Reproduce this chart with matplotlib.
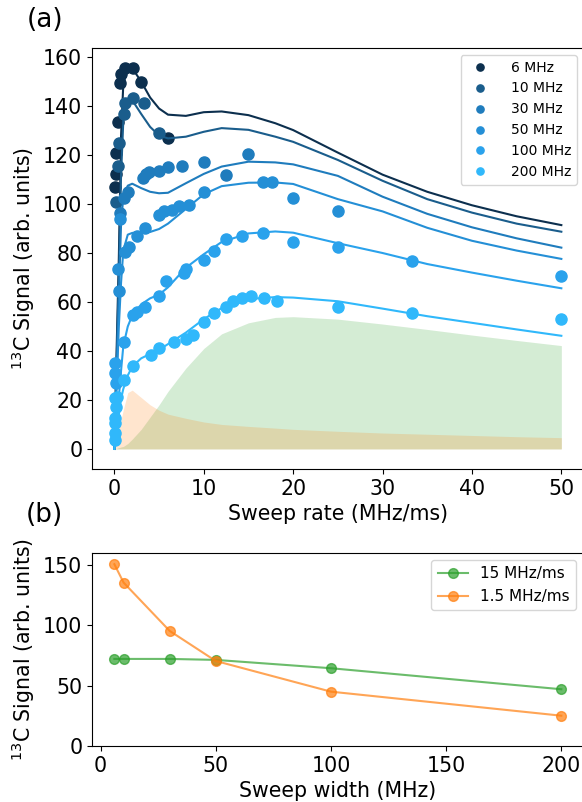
import numpy as np
import matplotlib
matplotlib.use('Agg')
import matplotlib.pyplot as plt

# ---- panel (a): measured signal vs sweep rate, one series per sweep width
labels = ['6 MHz', '10 MHz', '30 MHz', '50 MHz', '100 MHz', '200 MHz']
colors = ['#0c2f4e', '#1a5d8c', '#1f7cbd', '#248fd6', '#2aa2ec', '#30b8fb']

x6 = [0.11, 0.15, 0.22, 0.37, 0.6, 0.78, 1.23, 2.09, 3.0, 6.0]
y6 = [107, 112.2, 120.7, 133.6, 149.5, 153.3, 155.4, 155.4, 149.7, 127.1]
x10 = [0.22, 0.37, 0.56, 1.04, 1.23, 2.05, 3.36, 5.03]
y10 = [100.9, 115.5, 125.0, 136.6, 141.1, 143.1, 141.1, 129.1]
x30 = [0.67, 1.04, 1.5, 3.2, 3.5, 3.84, 5.03, 6.0, 7.57, 10.0, 12.5, 15.0]
y30 = [96.2, 102.3, 105.0, 110.5, 112.2, 113.2, 113.6, 115.2, 115.5, 117.3, 111.8, 120.4]
x50 = [0.41, 0.56, 0.67, 1.23, 1.68, 2.5, 3.4, 5.03, 5.6, 6.4, 7.2, 8.4, 10.0, 16.6, 17.6, 20.0, 25.0]
y50 = [73.3, 64.6, 93.7, 80.5, 82.6, 86.9, 90.1, 95.5, 97.3, 97.6, 99.2, 99.6, 105.0, 108.8, 109.1, 102.6, 97.1]
x100 = [0.05, 0.1, 0.2, 1.04, 2.05, 2.5, 3.4, 5.0, 5.8, 7.75, 8.0, 10.0, 11.1, 12.5, 14.3, 16.6, 20.0, 25.0, 33.3, 50.0]
y100 = [35.2, 31.1, 26.8, 43.8, 54.7, 56.0, 58.1, 62.6, 68.6, 71.7, 73.5, 77.1, 80.8, 85.7, 86.9, 88.0, 84.6, 82.3, 76.9, 70.7]
x200 = [0.02, 0.3, 0.15, 0.08, 0.1, 0.08, 0.1, 1.04, 2.05, 4.1, 4.96, 6.7, 8.0, 8.76, 10.0, 11.1, 12.5,
        13.3, 14.3, 15.3, 16.7, 18.2, 25.0, 33.3, 50.0]
y200 = [20.7, 21.4, 17.0, 12.5, 10.5, 6.4, 3.7, 28.2, 33.9, 38.4, 41.1, 43.5, 44.9, 46.5, 51.7, 55.4, 58.1,
        60.5, 61.5, 62.4, 61.5, 60.5, 57.8, 55.4, 52.9]

# fitted curves
fx = [0, 0.25, 0.5, 0.75, 1, 1.5, 2, 3, 4, 5, 6, 8, 10, 12, 15, 18, 20, 25, 30, 35, 40, 45, 50]
fit6 = [0, 40, 78, 128, 149, 155.5, 155.5, 150, 143.5, 139, 136.5, 136, 137.5, 137.8, 136.3, 133, 130.2,
        121, 112, 105, 99.5, 95, 91.4]
fit10 = [0, 35, 70, 112, 134, 141.5, 142.4, 136.8, 131.5, 128, 126.8, 127.5, 129.5, 131, 130.3, 127.5,
         125.4, 118, 109.5, 102, 96.5, 92, 88.7]
fit30 = [0, 30, 62, 92, 103, 107.5, 108.3, 106.5, 105, 104.4, 104.6, 108.5, 112.3, 115.3, 117.3, 117,
         116.2, 111.5, 103, 96, 90.5, 86, 82.2]
fit50 = [0, 25, 50, 68, 81, 87.5, 88.2, 88.4, 88.6, 89.8, 92, 98, 104, 107.3, 108.7, 108.8, 108.2, 102,
         97, 90.3, 85, 81, 77.6]
fit100 = [0, 10, 21, 32, 42, 50, 54.5, 59, 61.5, 63, 66, 74, 79.5, 84.5, 88, 88.8, 88.3, 84, 80, 75.5,
          72, 68.7, 65.6]
fit200 = [0, 7, 14, 20.5, 24.5, 30, 33.6, 37, 38.8, 40.5, 42.8, 47.5, 53, 57.5, 61.2, 62, 61.8, 60.3,
          57.3, 54.2, 51.5, 48.8, 46.2]

# shaded contributions
shade_green = [0, 0.2, 0.5, 0.8, 1, 2.2, 4, 8, 13, 18, 23.5, 33, 41, 47, 51.5, 53.7, 54, 53, 51, 48.8,
               46.5, 44.3, 42.2]
shade_orange = [0, 4, 8, 12, 16, 23, 24, 21, 18, 15.8, 14.2, 12.5, 11, 10, 9.2, 8.5, 8, 7.2, 6.5, 6,
                5.5, 5, 4.6]

# ---- panel (b): signal vs sweep width
widths = [6, 10, 30, 50, 100, 200]
sig_fast = [72.1, 72.1, 72.1, 71.3, 64.4, 47.0]
sig_slow = [150.5, 135.3, 95.3, 70.4, 45.0, 25.1]

fig = plt.figure(figsize=(5.82, 8.02), dpi=100)
ax1 = fig.add_axes([0.1581, 0.4152, 0.8448, 0.5249])
ax2 = fig.add_axes([0.1581, 0.0698, 0.8448, 0.2410])

ax1.fill_between(fx, 0, shade_green, color='tab:green', alpha=0.2, lw=0)
ax1.fill_between(fx, 0, shade_orange, color='tab:orange', alpha=0.2, lw=0)

xs = [x6, x10, x30, x50, x100, x200]
ys = [y6, y10, y30, y50, y100, y200]
fits = [fit6, fit10, fit30, fit50, fit100, fit200]
for xd, yd, fy, c, lab in zip(xs, ys, fits, colors, labels):
    ax1.plot(fx, fy, color=c, lw=1.5)
    ax1.plot(xd, yd, 'o', color=c, ms=8, lw=0, label=lab)

ax1.set_xlim(-2.5, 52.5)
ax1.set_ylim(-8.2, 163.7)
ax1.set_xticks([0, 10, 20, 30, 40, 50])
ax1.set_yticks(range(0, 161, 20))
ax1.tick_params(labelsize=14.8)
ax1.set_xlabel('Sweep rate (MHz/ms)', fontsize=14.8)
ax1.set_ylabel('$^{13}$C Signal (arb. units)', fontsize=14.8)
ax1.legend(loc='upper right', fontsize=10, markerscale=0.65, handletextpad=1.2)

ax2.plot(widths, sig_fast, 'o-', color='tab:green', alpha=0.7, ms=7, lw=1.5, label='15 MHz/ms')
ax2.plot(widths, sig_slow, 'o-', color='tab:orange', alpha=0.7, ms=7, lw=1.5, label='1.5 MHz/ms')
ax2.set_xlim(-3.7, 209.7)
ax2.set_ylim(0, 160)
ax2.set_xticks([0, 50, 100, 150, 200])
ax2.set_yticks([0, 50, 100, 150])
ax2.tick_params(labelsize=14.8)
ax2.set_xlabel('Sweep width (MHz)', fontsize=14.8)
ax2.set_ylabel('$^{13}$C Signal (arb. units)', fontsize=14.8)
ax2.legend(loc='upper right', fontsize=11)

fig.text(0.077, 0.975, '(a)', fontsize=19, ha='center', va='center')
fig.text(0.077, 0.358, '(b)', fontsize=19, ha='center', va='center')

fig.savefig('out.png', dpi=100)
